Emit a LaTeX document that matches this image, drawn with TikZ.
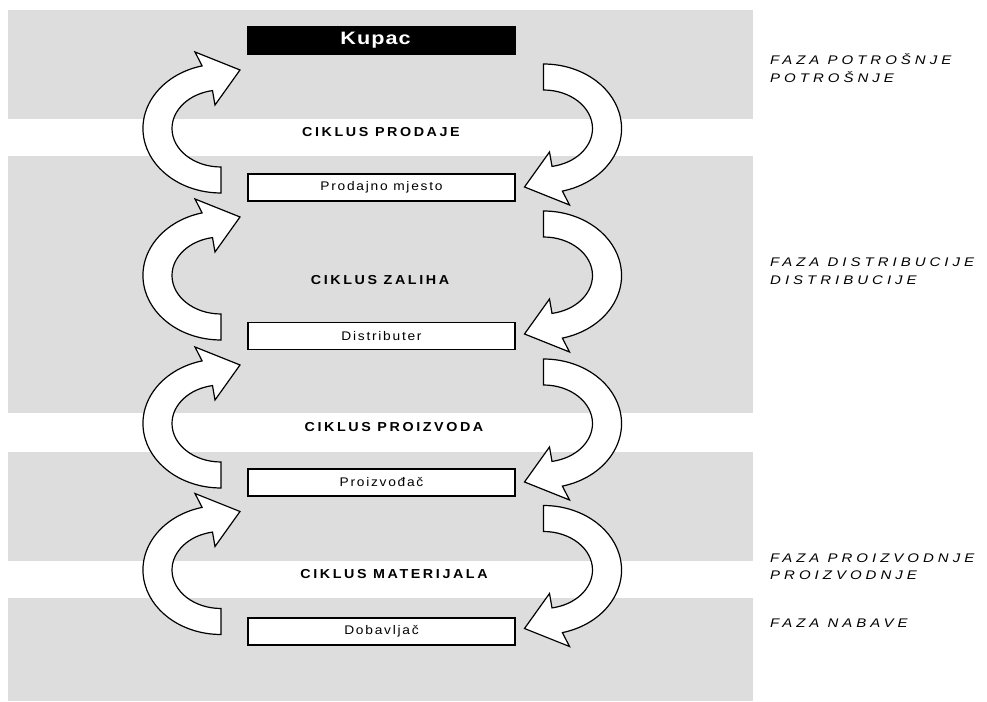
\documentclass[tikz,border=0pt]{standalone}
\usepackage{fontspec}
\setmainfont{Liberation Sans}
\newfontfamily\kupacfont[FakeStretch=1.2,LetterSpace=6]{Liberation Sans}
\newfontfamily\boxfont[FakeStretch=1.1,LetterSpace=14]{Liberation Sans}
\newfontfamily\ciklusfont[FakeStretch=1.1,LetterSpace=20]{Liberation Sans}
\newfontfamily\fazafont[FakeStretch=1.2,LetterSpace=32]{Liberation Sans}
\definecolor{bandgray}{RGB}{221,221,221}

\tikzset{
  band/.style={fill=bandgray},
  arrowshape/.style={draw=black, line width=1.2pt, fill=white, line join=miter},
  stagebox/.style={draw=black, line width=1.7pt, fill=white, minimum width=267pt,
    minimum height=27pt, inner sep=0pt, font=\boxfont\fontsize{12.5}{13}\selectfont},
  kupacbox/.style={stagebox, fill=black, text=white, font=\kupacfont\bfseries\fontsize{18}{19}\selectfont},
  ciklus/.style={font=\ciklusfont\bfseries\fontsize{13}{14}\selectfont, inner sep=0pt},
  faza/.style={anchor=west, align=left, inner sep=0pt,
    font=\fazafont\itshape\fontsize{12.5}{17.5}\selectfont},
  ciklusarrow/.pic={
    \draw[arrowshape] (-144.5,58.5) -- (-189.5,76.5) -- (-182.4,62.6)
      arc[start angle=104, end angle=270, x radius=78, y radius=64.5]
      -- (-163.5,-38.5)
      arc[start angle=270, end angle=100, x radius=49, y radius=38.5]
      -- (-169.5,23.5) -- cycle;
  }
}

\begin{document}
\begin{tikzpicture}[x=1pt,y=1pt]
    \useasboundingbox (0,0) rectangle (987,701);
    % trake faza
    \fill[band] (8,582) rectangle (753,691);
    \fill[band] (8,288) rectangle (753,545);
    \fill[band] (8,140) rectangle (753,249);
    \fill[band] (8,0) rectangle (753,103);
    % ciklusi i kruzne strelice
    \foreach \cy/\lx/\ly/\txt [count=\i] in {572.5/381/569/CIKLUS PRODAJE,
        425.5/380/421/CIKLUS ZALIHA, 277.5/394/274/CIKLUS PROIZVODA,
        131/394/127/CIKLUS MATERIJALA}{
        \coordinate (l\i) at (384.5,\cy);
        \coordinate (r\i) at (380,\cy);
        \pic at (l\i) {ciklusarrow};
        \pic[rotate=180] at (r\i) {ciklusarrow};
        \node[ciklus] (ciklus\i) at (\lx,\ly) {\txt};
    }
    % sudionici lanca
    \node[kupacbox] (kupac) at (381.5,660.5) {\hspace*{-12pt}Kupac};
    \node[stagebox] (prodaja) at (381.5,513.5) {Prodajno mjesto};
    \node[stagebox] (distributer) at (381.5,365) {Distributer};
    \node[stagebox] (proizvodjac) at (381.5,218.5) {Proizvođač};
    \node[stagebox] (dobavljac) at (381.5,69.5) {Dobavljač};
    % faze
    \node[faza] (fazaPotrosnje) at (770,632.75) {FAZA POTROŠNJE\\POTROŠNJE};
    \node[faza] (fazaDistribucije) at (770,430) {FAZA DISTRIBUCIJE\\DISTRIBUCIJE};
    \node[faza] (fazaProizvodnje) at (770,134.5) {FAZA PROIZVODNJE\\PROIZVODNJE};
    \node[faza] (fazaNabave) at (770,78) {FAZA NABAVE};
\end{tikzpicture}
\end{document}
